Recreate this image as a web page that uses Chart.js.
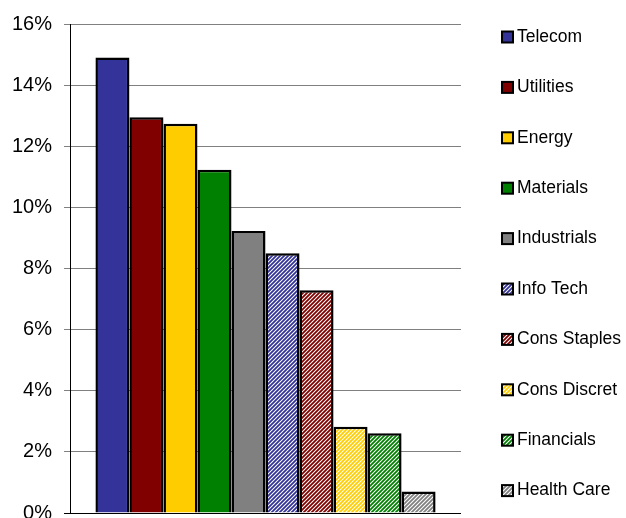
<!DOCTYPE html>
<html>
<head>
<meta charset="utf-8">
<script src="https://cdn.jsdelivr.net/npm/chart.js@4/dist/chart.umd.min.js"></script>
<style>
  html, body { margin: 0; padding: 0; background: #fff; overflow: hidden; }
  #wrap { width: 626px; height: 537px; position: relative; }
</style>
</head>
<body>
<div id="wrap"><canvas id="myChart"></canvas></div>
<script>
// sectors, shown as one grouped bar each
const sectors = ['Telecom', 'Utilities', 'Energy', 'Materials', 'Industrials',
                 'Info Tech', 'Cons Staples', 'Cons Discret', 'Financials', 'Health Care'];
const values = [14.9, 12.95, 12.74, 11.23, 9.23, 8.5, 7.29, 2.82, 2.61, 0.7];
const baseColors = ['#333399', '#800000', '#FFCC00', '#008000', '#808080',
                    '#333399', '#800000', '#FFCC00', '#008000', '#808080'];
const hatched = [false, false, false, false, false, true, true, true, true, true];
const yTicks = [0, 2, 4, 6, 8, 10, 12, 14, 16];

const FONT = "'Liberation Sans', Arial, sans-serif";

// diagonal stripes on white
function hatch(color) {
    const c = document.createElement('canvas');
    c.width = c.height = 4;
    const g = c.getContext('2d');
    g.fillStyle = '#fff';
    g.fillRect(0, 0, 4, 4);
    g.strokeStyle = color;
    g.lineWidth = 1.8;
    g.beginPath();
    g.moveTo(-1, 5); g.lineTo(5, -1);
    g.moveTo(-1, 1); g.lineTo(1, -1);
    g.moveTo(3, 5); g.lineTo(5, 3);
    g.stroke();
    return g.createPattern(c, 'repeat');
}

const fills = baseColors.map((c, i) => hatched[i] ? hatch(c) : c);

// legend drawn at the right, one row per sector
const sideLegend = {
    id: 'sideLegend',
    afterDraw(chart) {
        const ctx = chart.ctx;
        ctx.save();
        ctx.font = '17.5px ' + FONT;
        ctx.textBaseline = 'middle';
        chart.data.datasets.forEach((ds, i) => {
            const y = 37 + i * 50.4;
            ctx.fillStyle = ds.backgroundColor;
            ctx.fillRect(502, y - 5.5, 11, 11);
            ctx.strokeStyle = '#000';
            ctx.lineWidth = 2;
            ctx.strokeRect(502, y - 5.5, 11, 11);
            ctx.fillStyle = '#000';
            ctx.fillText(ds.label, 517, y);
        });
        ctx.restore();
    }
};

const ctx = document.getElementById('myChart').getContext('2d');

const myChart = new Chart(ctx, {
    type: 'bar',
    data: {
        labels: [''],
        datasets: sectors.map((name, i) => ({
            label: name,
            data: [values[i]],
            backgroundColor: fills[i],
            borderColor: '#000',
            borderWidth: 2.5,
            categoryPercentage: 0.87,
            barPercentage: 1.0
        }))
    },
    options: {
        responsive: true,
        maintainAspectRatio: false,
        animation: false,
        layout: { padding: { left: 0, right: 165, top: 8, bottom: 0 } },
        plugins: {
            legend: { display: false },
            tooltip: { enabled: false }
        },
        scales: {
            x: { display: false },
            y: {
                min: 0,
                max: 16,
                afterBuildTicks: (axis) => { axis.ticks = yTicks.map(v => ({ value: v })); },
                ticks: {
                    callback: (v) => v + '%',
                    color: '#000',
                    padding: 12,
                    font: { family: FONT, size: 20 }
                },
                grid: {
                    color: (c) => (c.tick && c.tick.value === 0) ? '#000' : '#808080',
                    lineWidth: 1,
                    tickLength: 6
                },
                border: { color: '#000', width: 1 }
            }
        }
    },
    plugins: [sideLegend]
});
</script>
</body>
</html>
